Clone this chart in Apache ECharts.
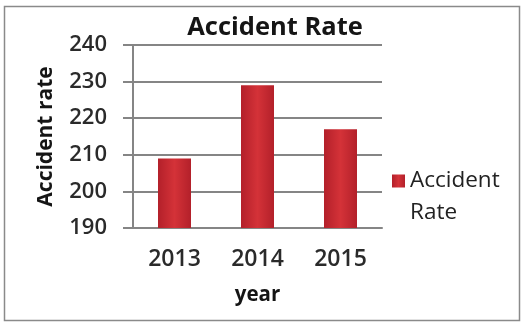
<!DOCTYPE html>
<html>
<head>
<meta charset="utf-8">
<script src="https://cdn.jsdelivr.net/npm/echarts@6/dist/echarts.min.js"></script>
<style>html,body{margin:0;padding:0;background:#fff;}#c{width:523px;height:325px;}</style>
</head>
<body>
<div id="c"></div>
<script>
const categories = ['2013', '2014', '2015'];
const accidentRate = [209, 229, 217];
const yTicks = [190, 200, 210, 220, 230, 240];
const seriesName = 'Accident Rate';

const chart = echarts.init(document.getElementById('c'), null, {renderer: 'canvas'});
const FONT = '"Open Sans", "Noto Sans", sans-serif';
chart.setOption({
  animation: false,
  backgroundColor: '#fff',
  graphic: [{
    type: 'rect', shape: {x: 4.5, y: 6.5, width: 515, height: 314},
    style: {fill: 'none', stroke: '#8a8a8a', lineWidth: 1.5}, silent: true
  }],
  title: {
    text: 'Accident Rate', left: 270, top: 10, textAlign: 'center',
    textStyle: {fontFamily: FONT, fontWeight: 'bold', fontSize: 25.5, color: '#151515'}
  },
  legend: {
    orient: 'vertical', left: 392, top: 133, padding: 0,
    itemWidth: 13, itemHeight: 13, icon: 'rect',
    formatter: () => '\nAccident\nRate',
    textStyle: {fontFamily: FONT, fontSize: 22.5, color: '#222', lineHeight: 32}
  },
  grid: {left: 133, right: 141, top: 45, bottom: 97},
  xAxis: {
    type: 'category', data: categories,
    name: 'year', nameLocation: 'middle', nameGap: 57,
    nameTextStyle: {fontFamily: FONT, fontWeight: 'bold', fontSize: 20.5, color: '#151515'},
    axisLine: {show: true, lineStyle: {color: '#858585', width: 2}},
    axisTick: {show: false},
    axisLabel: {margin: 20, fontFamily: FONT, fontWeight: 600, fontSize: 23, color: '#2a2a2a'}
  },
  yAxis: {
    type: 'value', min: yTicks[0], max: yTicks[yTicks.length - 1], interval: 10,
    name: 'Accident rate', nameLocation: 'middle', nameGap: 76, nameRotate: 90,
    nameTextStyle: {fontFamily: FONT, fontWeight: 'bold', fontSize: 21, color: '#151515'},
    axisLine: {show: true, lineStyle: {color: '#858585', width: 2}},
    axisTick: {show: true, length: 10, lineStyle: {color: '#858585', width: 2}},
    splitLine: {show: true, lineStyle: {color: '#858585', width: 2}},
    axisLabel: {margin: 26, fontFamily: FONT, fontWeight: 600, fontSize: 22, color: '#2a2a2a'}
  },
  series: [{
    name: seriesName, type: 'bar', data: accidentRate, barWidth: 33,
    itemStyle: {
      color: new echarts.graphic.LinearGradient(0, 0, 1, 0, [
        {offset: 0, color: '#b3202a'},
        {offset: 0.5, color: '#d43238'},
        {offset: 1, color: '#b3202a'}
      ])
    }
  }]
});
</script>
</body>
</html>
